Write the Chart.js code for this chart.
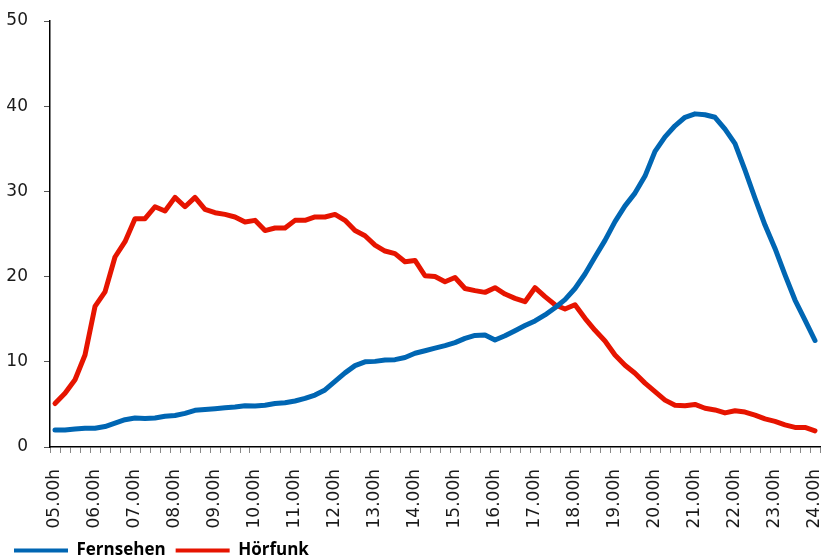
<!DOCTYPE html>
<html>
<head>
<meta charset="utf-8">
<script src="https://cdn.jsdelivr.net/npm/chart.js@4/dist/chart.umd.min.js"></script>
<style>
  html, body { margin: 0; padding: 0; background: #fff; }
  #wrap { width: 821px; height: 558px; position: relative; }
</style>
</head>
<body>
<div id="wrap"><canvas id="chart"></canvas></div>
<script>
// full-hour tick labels, one every 4 quarter-hour categories
var hourLabels = ['05.00h', '06.00h', '07.00h', '08.00h', '09.00h', '10.00h', '11.00h',
  '12.00h', '13.00h', '14.00h', '15.00h', '16.00h', '17.00h', '18.00h', '19.00h',
  '20.00h', '21.00h', '22.00h', '23.00h', '24.00h'];

var fernsehen = [2.0, 2.0, 2.1, 2.2, 2.2, 2.4, 2.8, 3.2, 3.4, 3.35, 3.4, 3.6, 3.7, 3.95, 4.3, 4.4,
  4.5, 4.6, 4.7, 4.85, 4.8, 4.9, 5.1, 5.2, 5.4, 5.7, 6.1, 6.7, 7.7, 8.7, 9.55, 10.0,
  10.05, 10.2, 10.25, 10.5, 11.0, 11.3, 11.6, 11.9, 12.25, 12.75, 13.1, 13.15, 12.55, 13.05, 13.65, 14.25,
  14.8, 15.5, 16.35, 17.3, 18.6, 20.3, 22.3, 24.25, 26.45, 28.3, 29.8, 31.8, 34.7, 36.4, 37.7, 38.7,
  39.1, 39.0, 38.7, 37.3, 35.6, 32.5, 29.2, 26.05, 23.3, 20.2, 17.25, 14.9, 12.5];

var hoerfunk = [5.1, 6.3, 7.9, 10.8, 16.5, 18.2, 22.3, 24.1, 26.8, 26.8, 28.2, 27.7, 29.3, 28.2, 29.3, 27.9,
  27.5, 27.3, 27.0, 26.4, 26.6, 25.4, 25.7, 25.7, 26.6, 26.6, 27.0, 27.0, 27.3, 26.6, 25.4, 24.8,
  23.7, 23.0, 22.7, 21.75, 21.9, 20.1, 20.0, 19.4, 19.9, 18.6, 18.35, 18.15, 18.7, 17.95, 17.45, 17.05,
  18.7, 17.65, 16.7, 16.2, 16.7, 15.1, 13.7, 12.45, 10.8, 9.6, 8.65, 7.5, 6.5, 5.5, 4.9, 4.85,
  5.0, 4.55, 4.35, 4.0, 4.25, 4.1, 3.75, 3.3, 3.0, 2.6, 2.3, 2.3, 1.9];

var seriesNames = ['Fernsehen', 'Hörfunk'];
var seriesColors = ['#0066b3', '#e61400'];

// quarter-hour categories
var categories = [];
for (var h = 0; h < hourLabels.length; h++) {
  categories.push(hourLabels[h]);
  if (h < hourLabels.length - 1) {
    categories.push(hourLabels[h] + '+15', hourLabels[h] + '+30', hourLabels[h] + '+45');
  }
}

var tickFont = { family: 'DejaVu Sans', size: 17 };

window.onload = function () {
  var ctx = document.getElementById('chart').getContext('2d');
  new Chart(ctx, {
    type: 'line',
    data: {
      labels: categories,
      datasets: [fernsehen, hoerfunk].map(function (d, i) {
        return {
          label: seriesNames[i],
          data: d,
          borderColor: seriesColors[i],
          backgroundColor: seriesColors[i],
          borderWidth: 5,
          pointRadius: 0,
          tension: 0,
          fill: false,
          borderJoinStyle: 'round',
          borderCapStyle: 'round'
        };
      })
    },
    options: {
      responsive: true,
      maintainAspectRatio: false,
      animation: false,
      layout: { padding: { left: 4, right: 1, top: 21, bottom: -11 } },
      plugins: {
        tooltip: { enabled: false },
        legend: {
          position: 'bottom',
          align: 'start',
          labels: {
            boxWidth: 54,
            boxHeight: 4,
            padding: 10,
            color: '#000',
            font: { family: 'Open Sans', size: 17, weight: 'bold' },
            generateLabels: function (chart) {
              return chart.data.datasets.map(function (ds, i) {
                return {
                  text: ds.label,
                  fillStyle: ds.borderColor,
                  strokeStyle: ds.borderColor,
                  lineWidth: 0,
                  datasetIndex: i
                };
              });
            }
          }
        }
      },
      scales: {
        x: {
          type: 'category',
          offset: true,
          grid: {
            offset: true,
            drawOnChartArea: false,
            drawTicks: true,
            tickLength: 6,
            color: '#888'
          },
          border: { display: true, color: '#000', width: 1.5 },
          ticks: {
            autoSkip: false,
            maxRotation: 90,
            minRotation: 90,
            padding: 16,
            color: '#1a1a1a',
            font: tickFont,
            callback: function (v, idx) {
              return idx % 4 === 0 ? hourLabels[idx / 4] : '';
            }
          },
          afterFit: function (scale) {
            scale.height = 85;
            scale.paddingLeft = 0;
            scale.paddingRight = 0;
          }
        },
        y: {
          min: 0,
          max: 50,
          grid: {
            drawOnChartArea: false,
            drawTicks: true,
            tickLength: 6,
            color: '#555'
          },
          border: { display: true, color: '#000', width: 1.5 },
          ticks: {
            stepSize: 10,
            padding: 16,
            color: '#1a1a1a',
            font: tickFont
          },
          afterFit: function (scale) {
            scale.width = 46;
            scale.paddingTop = 0;
            scale.paddingBottom = 0;
          }
        }
      }
    }
  });
};
</script>
</body>
</html>
